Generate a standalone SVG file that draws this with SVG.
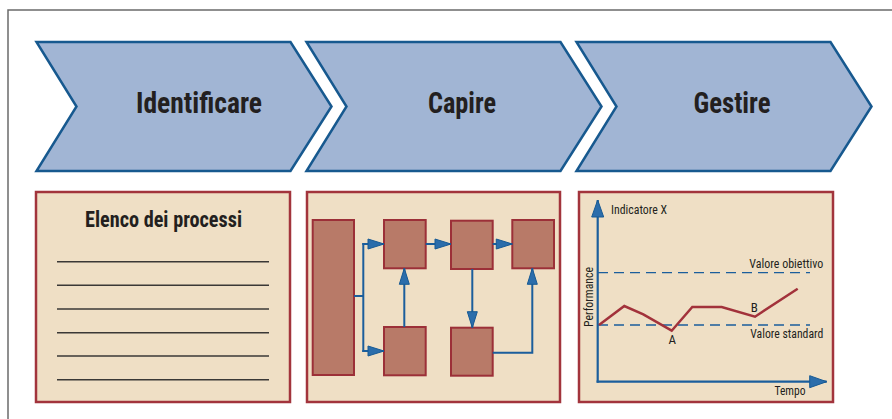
<svg xmlns="http://www.w3.org/2000/svg" width="892" height="419" viewBox="0 0 892 419">
  <style>
    .chev { fill: #a1b5d4; stroke: #17598f; stroke-width: 2.5; stroke-linejoin: miter; }
    .chev-label { font-family: "Liberation Sans Narrow", "Roboto Condensed", "Liberation Sans", sans-serif; font-weight: bold; font-size: 30px; fill: #231f20; text-anchor: middle; }
    .panel { fill: #efdfc5; stroke: #a2343c; stroke-width: 2.5; }
    .block { fill: #b87a68; stroke: #9c3038; stroke-width: 2; }
    .rule { stroke: #3a3836; stroke-width: 1.4; }
    .flow { fill: none; stroke: #1b5e9c; stroke-width: 2; }
    .axis { fill: none; stroke: #1b5e9c; stroke-width: 2.2; }
    .ref { fill: none; stroke: #1b5e9c; stroke-width: 1.3; stroke-dasharray: 10 6; }
    .trend { fill: none; stroke: #a2323b; stroke-width: 2.5; stroke-linejoin: miter; }
    .small { font-family: "Liberation Sans Narrow", "Roboto Condensed", "Liberation Sans", sans-serif; font-size: 13px; fill: #231f20; }
    .title { font-family: "Liberation Sans Narrow", "Roboto Condensed", "Liberation Sans", sans-serif; font-weight: bold; font-size: 22px; fill: #231f20; text-anchor: middle; }
  </style>
  <defs>
    <marker id="head" viewBox="0 0 16 10" refX="16" refY="5" markerWidth="16" markerHeight="10" orient="auto" markerUnits="userSpaceOnUse" overflow="visible">
      <path d="M0,0 L16,5 L0,10 Z" fill="#2b6dab" stroke="#175a94" stroke-width="1"/>
    </marker>
    <marker id="axhead" viewBox="0 0 17 12" refX="17" refY="6" markerWidth="17" markerHeight="12" orient="auto" markerUnits="userSpaceOnUse" overflow="visible">
      <path d="M0,0 L17,6 L0,12 Z" fill="#2b6dab" stroke="#175a94" stroke-width="1"/>
    </marker>
  </defs>

  <rect width="892" height="419" fill="#ffffff"/>
  <!-- outer frame (open on the right and bottom) -->
  <path d="M8,419 V10 H892" fill="none" stroke="#6b6b6b" stroke-width="1.5"/>

  <!-- phase chevrons -->
  <g id="identificare">
    <path class="chev" d="M36.5,42 H290.5 L331.5,106.5 L290.5,171 H36.5 L76.5,106.5 Z"/>
    <text class="chev-label" x="199" y="113" textLength="126" lengthAdjust="spacingAndGlyphs">Identificare</text>
  </g>
  <g id="capire">
    <path class="chev" d="M306.5,42 H560.5 L601.5,106.5 L560.5,171 H306.5 L346.5,106.5 Z"/>
    <text class="chev-label" x="462" y="113" textLength="68" lengthAdjust="spacingAndGlyphs">Capire</text>
  </g>
  <g id="gestire">
    <path class="chev" d="M576.5,42 H830.5 L871.5,106.5 L830.5,171 H576.5 L616.5,106.5 Z"/>
    <text class="chev-label" x="732" y="113" textLength="77" lengthAdjust="spacingAndGlyphs">Gestire</text>
  </g>

  <!-- process list panel -->
  <g id="elenco">
    <rect class="panel" x="36" y="192" width="254" height="210"/>
    <text class="title" x="163.5" y="227" textLength="157" lengthAdjust="spacingAndGlyphs">Elenco dei processi</text>
    <line class="rule" x1="57" y1="261.7" x2="269" y2="261.7"/>
    <line class="rule" x1="57" y1="285.3" x2="269" y2="285.3"/>
    <line class="rule" x1="57" y1="309" x2="269" y2="309"/>
    <line class="rule" x1="57" y1="332.7" x2="269" y2="332.7"/>
    <line class="rule" x1="57" y1="356" x2="269" y2="356"/>
    <line class="rule" x1="57" y1="379.7" x2="269" y2="379.7"/>
  </g>

  <!-- process flow panel -->
  <g id="flusso">
    <rect class="panel" x="307" y="192" width="253" height="210"/>
    <g id="blocco-sorgente"><rect class="block" x="312.7" y="220" width="41.3" height="155"/></g>
    <g id="blocco-a"><rect class="block" x="384" y="220" width="41.7" height="48.3"/></g>
    <g id="blocco-b"><rect class="block" x="451" y="220.7" width="41.7" height="48.3"/></g>
    <g id="blocco-c"><rect class="block" x="512.3" y="220" width="41.7" height="48.3"/></g>
    <g id="blocco-d"><rect class="block" x="384" y="327" width="41.7" height="48.3"/></g>
    <g id="blocco-e"><rect class="block" x="451" y="327.7" width="41.7" height="48"/></g>
  </g>

  <g id="connettori">
    <path class="flow" d="M354,296 H363.3"/>
    <path class="flow" d="M363.3,243 V352"/>
    <path class="flow" d="M362.3,244 H384" marker-end="url(#head)"/>
    <path class="flow" d="M362.3,351 H384" marker-end="url(#head)"/>
    <path class="flow" d="M425.7,244 H451" marker-end="url(#head)"/>
    <path class="flow" d="M492.7,244 H512.3" marker-end="url(#head)"/>
    <path class="flow" d="M404.3,327 V268.3" marker-end="url(#head)"/>
    <path class="flow" d="M472.3,269 V327.7" marker-end="url(#head)"/>
    <path class="flow" d="M492.7,352.7 H532.3 V268.3" marker-end="url(#head)"/>
  </g>

  <!-- performance chart panel -->
  <g id="grafico">
    <rect class="panel" x="579" y="192" width="254" height="210"/>
    <path class="axis" d="M597.7,382.7 V200" marker-end="url(#axhead)"/>
    <path class="axis" d="M596.6,381.7 H826.7" marker-end="url(#axhead)"/>
    <line class="ref" x1="598" y1="272.7" x2="810" y2="272.7"/>
    <line class="ref" x1="598" y1="325" x2="810" y2="325"/>
    <polyline class="trend" points="599,325 624.3,306 643.3,314.3 671.7,330.7 692.3,307 721.7,307 755,316.7 797.7,288.7"/>
    <text class="small" x="611" y="214.3" textLength="56" lengthAdjust="spacingAndGlyphs">Indicatore X</text>
    <text class="small" x="823.3" y="268.3" text-anchor="end" textLength="74" lengthAdjust="spacingAndGlyphs">Valore obiettivo</text>
    <text class="small" x="823.3" y="338.3" text-anchor="end" textLength="73" lengthAdjust="spacingAndGlyphs">Valore standard</text>
    <text class="small" x="672.3" y="344.3" text-anchor="middle">A</text>
    <text class="small" x="754.3" y="311.7" text-anchor="middle">B</text>
    <text class="small" x="790" y="395" text-anchor="middle" textLength="31" lengthAdjust="spacingAndGlyphs">Tempo</text>
    <text class="small" transform="translate(592.5,297) rotate(-90)" text-anchor="middle" textLength="60" lengthAdjust="spacingAndGlyphs">Performance</text>
  </g>
</svg>
